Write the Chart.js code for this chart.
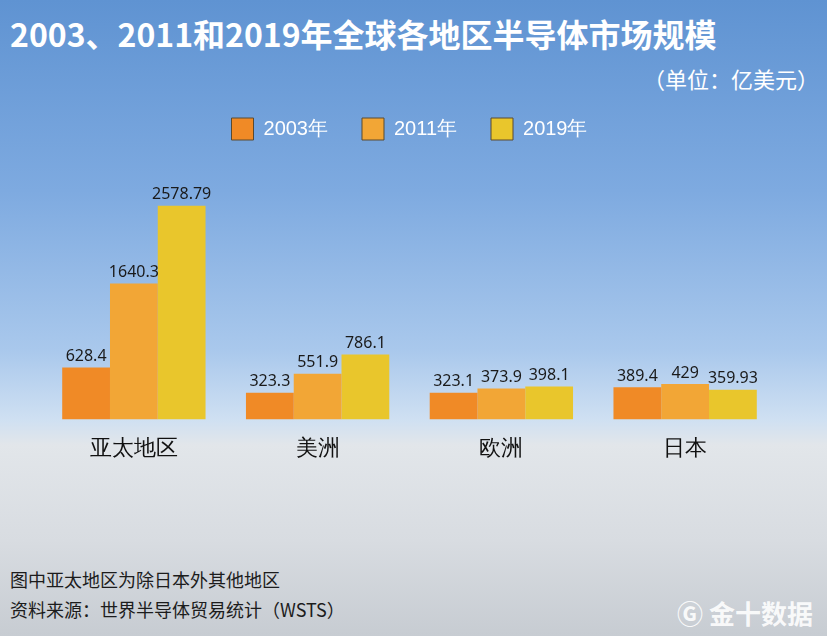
<!DOCTYPE html>
<html>
<head>
<meta charset="utf-8">
<script src="https://cdn.jsdelivr.net/npm/chart.js@4"></script>
<style>
  body { margin: 0; }
  #wrap {
    position: relative; width: 827px; height: 636px; overflow: hidden;
    font-family: "Noto Sans CJK SC", "Noto Sans", sans-serif;
    background: linear-gradient(to bottom, #5f93d2 0%, #7eaae0 30%, #a9c8ec 55%, #cfe0f2 66%, #e2e6ea 70%, #d8dce1 85%, #c7ccd2 100%);
  }
  #title { position: absolute; left: 10px; top: 10px; color: #fff; font-size: 32px; font-weight: bold; }
  #unit { position: absolute; right: 8px; top: 62px; color: #fff; font-size: 22px; }
  .note { position: absolute; left: 10px; color: #1c1c1c; font-size: 18px; }
  #mark { position: absolute; right: 14px; top: 594px; color: rgba(255,255,255,0.9); font-size: 26px; font-weight: bold; }
  #box { position: absolute; left: 0; top: 84px; width: 827px; height: 386px; }
</style>
</head>
<body>
<div id="wrap">
  <div id="title">2003、2011和2019年全球各地区半导体市场规模</div>
  <div id="unit">（单位：亿美元）</div>
  <div id="box"><canvas id="c"></canvas></div>
  <div class="note" style="top:566px">图中亚太地区为除日本外其他地区</div>
  <div class="note" style="top:596px">资料来源：世界半导体贸易统计（WSTS）</div>
  <div id="mark">Ⓖ 金十数据</div>
</div>
<script>
var regions = ["亚太地区", "美洲", "欧洲", "日本"];
var years = ["2003年", "2011年", "2019年"];
var v2003 = [628.4, 323.3, 323.1, 389.4];
var v2011 = [1640.3, 551.9, 373.9, 429];
var v2019 = [2578.79, 786.1, 398.1, 359.93];
var colors = ["#f08a26", "#f2a636", "#e9c62c"];

var valueLabels = {
  id: "valueLabels",
  afterDatasetsDraw: function(chart) {
    var ctx = chart.ctx;
    ctx.save();
    ctx.font = "16px 'Noto Sans', sans-serif";
    ctx.fillStyle = "#1a1a1a";
    ctx.textAlign = "center";
    ctx.textBaseline = "bottom";
    chart.data.datasets.forEach(function(ds, i) {
      chart.getDatasetMeta(i).data.forEach(function(bar, j) {
        ctx.fillText(String(ds.data[j]), bar.x, bar.y - 3);
      });
    });
    ctx.restore();
  }
};

new Chart(document.getElementById("c"), {
  type: "bar",
  data: {
    labels: regions,
    datasets: [
      { label: years[0], data: v2003, backgroundColor: colors[0], borderColor: "#5a4a30", borderWidth: 0 },
      { label: years[1], data: v2011, backgroundColor: colors[1], borderColor: "#5a4a30", borderWidth: 0 },
      { label: years[2], data: v2019, backgroundColor: colors[2], borderColor: "#5a4a30", borderWidth: 0 }
    ]
  },
  options: {
    responsive: true,
    maintainAspectRatio: false,
    animation: false,
    layout: { padding: { left: 42, right: 50, top: 0, bottom: 0 } },
    datasets: { bar: { categoryPercentage: 0.78, barPercentage: 1.0 } },
    plugins: {
      legend: {
        position: "top",
        labels: {
          color: "#fff", font: { size: 20 }, boxWidth: 22, boxHeight: 22, padding: 34,
          generateLabels: function(chart) {
            return chart.data.datasets.map(function(ds, i) {
              return { text: ds.label, fillStyle: ds.backgroundColor, strokeStyle: "#5a4a30",
                       lineWidth: 1, fontColor: "#fff", datasetIndex: i, hidden: false };
            });
          }
        }
      },
      tooltip: { enabled: false }
    },
    scales: {
      x: {
        grid: { display: false }, border: { display: false },
        ticks: { color: "#111", font: { size: 22 }, padding: 8 }
      },
      y: { display: false, min: 0, max: 3250 }
    }
  },
  plugins: [valueLabels]
});
</script>
</body>
</html>
